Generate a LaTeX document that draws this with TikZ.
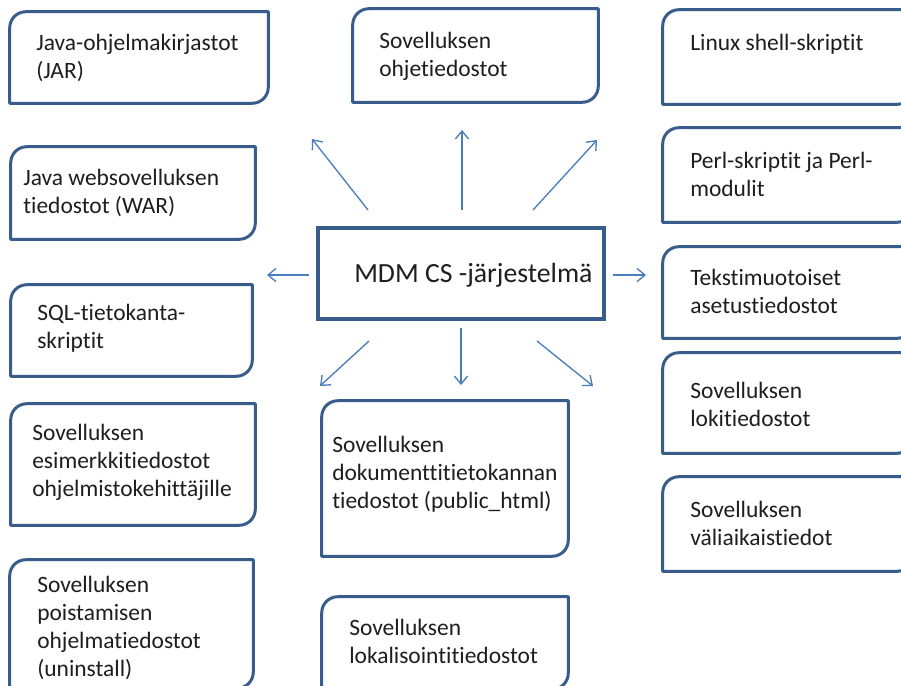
\documentclass[tikz,border=0pt]{standalone}
\usepackage{fontspec}
\setmainfont{Carlito}[RawFeature={-liga}]
\usetikzlibrary{arrows.meta,fit}
\definecolor{bord}{HTML}{385D8A}
\definecolor{arr}{HTML}{4A7EBB}
\definecolor{txt}{HTML}{1E1E1E}
\newcommand\boxlines[1]{\vtop{\baselineskip=21.2pt\lineskiplimit=-20pt\lineskip=0pt\relax #1}}
\newcommand\dbox[5]{%
  \coordinate (#1-nw) at (#2,#3);
  \coordinate (#1-se) at (#4,#5);
  \node[fit=(#1-nw)(#1-se), inner sep=0pt] (#1) {};
  \draw[boxline] (#1.south west) -- ([yshift=-12pt]#1.north west)
    arc[start angle=180,end angle=90,radius=12pt] -- (#1.north east)
    -- ([yshift=12pt]#1.south east)
    arc[start angle=0,end angle=-90,radius=12pt] -- cycle;}
\begin{document}
\begin{tikzpicture}[x=0.75pt,y=-0.75pt,
  boxline/.style={draw=bord, line width=2.25pt, line join=round},
  lbl/.style={anchor=base west, inner sep=0pt, font=\fontsize{17.6}{21.2}\selectfont, text=txt},
  conn/.style={draw=arr, line width=1pt, -{Straight Barb[length=6pt,width=10pt]}}]
\useasboundingbox (0,0) rectangle (901,686);
\clip (0,0) rectangle (901,686);
\fill[white] (0,0) rectangle (901,686);

% left column
\dbox{b1}{10}{12}{268}{103}
\dbox{b2}{11}{147}{255}{239}
\dbox{b3}{11}{285}{252}{376}
\dbox{b4}{11}{404}{255}{525}
\dbox{b5}{10}{560}{253}{688}
% middle column
\dbox{b6}{353}{9}{598}{102}
\dbox{b8}{322}{401}{568}{556}
\dbox{b9}{322}{597}{568}{689}
% right column
\dbox{b10}{663}{10}{913}{104}
\dbox{b11}{663}{128}{913}{222}
\dbox{b12}{663}{247}{913}{338}
\dbox{b13}{663}{353}{913}{453}
\dbox{b14}{663}{477}{913}{571}

% centre
\coordinate (m-nw) at (318,228);
\coordinate (m-se) at (604,319);
\node[fit=(m-nw)(m-se), inner sep=0pt, draw=bord, line width=3pt] (mdm) {};
\node[anchor=base west, inner sep=0pt, font=\fontsize{20.8}{25}\selectfont, text=txt] (mdmt) at (354,282) {MDM CS -järjestelmä};

% texts
\node[lbl] (t1) at (36,50) {\boxlines{\hbox{Java-ohjelmakirjastot}\hbox{(JAR)}}};
\node[lbl] (t2) at (23,185) {\boxlines{\hbox{Java websovelluksen}\hbox{tiedostot (WAR)}}};
\node[lbl] (t3) at (37,320) {\boxlines{\hbox{SQL-tietokanta-}\hbox{skriptit}}};
\node[lbl] (t4) at (32,440) {\boxlines{\hbox{Sovelluksen}\hbox{esimerkkitiedostot}\hbox{ohjelmistokehittäjille}}};
\node[lbl] (t5) at (37,592) {\boxlines{\hbox{Sovelluksen}\hbox{poistamisen}\hbox{ohjelmatiedostot}\hbox{(uninstall)}}};
\node[lbl] (t6) at (379,48) {\boxlines{\hbox{Sovelluksen}\hbox{ohjetiedostot}}};
\node[lbl] (t8) at (332,452) {\boxlines{\hbox{Sovelluksen}\hbox{dokumenttitietokannan}\hbox{tiedostot (public\_html)}}};
\node[lbl] (t9) at (349,635) {\boxlines{\hbox{Sovelluksen}\hbox{lokalisointitiedostot}}};
\node[lbl] (t10) at (690,50) {Linux shell-skriptit};
\node[lbl] (t11) at (690,168) {\boxlines{\hbox{Perl-skriptit ja Perl-}\hbox{modulit}}};
\node[lbl] (t12) at (690,285) {\boxlines{\hbox{Tekstimuotoiset}\hbox{asetustiedostot}}};
\node[lbl] (t13) at (690,398) {\boxlines{\hbox{Sovelluksen}\hbox{lokitiedostot}}};
\node[lbl] (t14) at (690,517) {\boxlines{\hbox{Sovelluksen}\hbox{väliaikaistiedot}}};

% arrow end points
\coordinate (a1s) at (368,210); \coordinate (a1e) at (312,139);
\coordinate (a2s) at (462,210); \coordinate (a2e) at (462,130);
\coordinate (a3s) at (533,210); \coordinate (a3e) at (597,140);
\coordinate (a4s) at (309,275); \coordinate (a4e) at (267,275);
\coordinate (a5s) at (613,275); \coordinate (a5e) at (646,275);
\coordinate (a6s) at (369,341); \coordinate (a6e) at (320,386);
\coordinate (a7s) at (461,328); \coordinate (a7e) at (461,385);
\coordinate (a8s) at (537,341); \coordinate (a8e) at (593,386);
\draw[conn] (a1s) -- (a1e);
\draw[conn] (a2s) -- (a2e);
\draw[conn] (a3s) -- (a3e);
\draw[conn] (a4s) -- (a4e);
\draw[conn] (a5s) -- (a5e);
\draw[conn] (a6s) -- (a6e);
\draw[conn] (a7s) -- (a7e);
\draw[conn] (a8s) -- (a8e);
\end{tikzpicture}
\end{document}
